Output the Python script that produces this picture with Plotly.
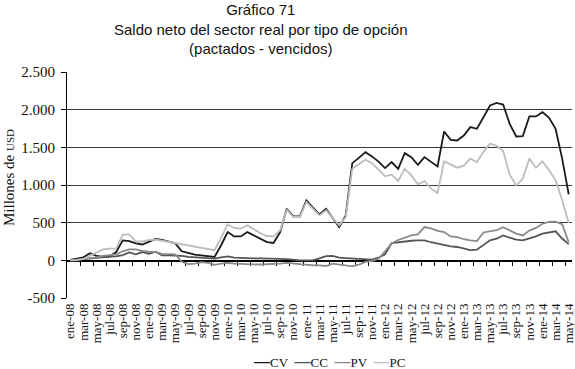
import plotly.graph_objects as go

month_names = ["ene", "feb", "mar", "abr", "may", "jun", "jul", "ago", "sep", "oct", "nov", "dic"]
years = ["08", "09", "10", "11", "12", "13", "14"]
categories = [f"{m}-{y}" for y in years for m in month_names][:77]  # ene-08 .. may-14

CV = [5, 20, 40, 95, 60, 45, 50, 110, 265, 255, 225, 210, 250, 285, 270, 250, 225, 120, 95, 75,
      66, 55, 45, 200, 375, 318, 318, 375, 330, 290, 243, 230, 375, 685, 584, 584, 795, 700, 610, 685,
      560, 442, 597, 1290, 1360, 1436, 1380, 1310, 1224, 1304, 1215, 1423, 1370, 1268, 1370, 1310, 1246, 1710, 1600, 1591,
      1657, 1768, 1746, 1900, 2055, 2090, 2068, 1812, 1644, 1650, 1910, 1910, 1967, 1892, 1746, 1350, 875]
CC = [0, 10, 20, 30, 35, 44, 50, 53, 70, 105, 80, 110, 88, 115, 66, 66, 66, 60, 45, 40,
      30, 25, 22, 40, 53, 35, 30, 26, 26, 26, 26, 26, 20, 15, 5, 0, 0, 0, 25, 55,
      60, 35, 30, 26, 20, 13, 10, 35, 80, 230, 243, 256, 260, 265, 265, 240, 221, 208, 186, 177,
      155, 135, 141, 199, 265, 287, 331, 300, 274, 265, 290, 318, 354, 370, 385, 290, 215]
PV = [0, 10, 20, 30, 40, 60, 70, 80, 120, 146, 146, 124, 115, 110, 85, 80, 80, -20, -50, -45,
      -25, -35, -60, -45, -35, -45, -50, -55, -53, -55, -53, -50, -45, -35, -45, -53, -60, -66, -66, -75,
      -44, -55, -70, -80, -57, -20, -9, 20, 120, 225, 270, 300, 331, 345, 442, 425, 390, 376, 318, 309,
      280, 265, 255, 370, 385, 400, 440, 400, 354, 331, 395, 430, 486, 510, 515, 480, 240]
PC = [0, 0, 20, 60, 110, 145, 155, 155, 340, 345, 250, 250, 270, 275, 260, 245, 230, 215, 200, 175,
      160, 150, 135, 300, 477, 430, 420, 464, 410, 360, 323, 318, 400, 672, 575, 575, 774, 680, 597, 664,
      560, 465, 575, 1217, 1280, 1336, 1290, 1200, 1115, 1137, 1053, 1217, 1128, 1009, 1053, 951, 894, 1314, 1274, 1230,
      1257, 1350, 1305, 1440, 1549, 1520, 1450, 1137, 996, 1084, 1350, 1230, 1314, 1200, 1062, 800, 496]

series_names = ["CV", "CC", "PV", "PC"]
series_values = [CV, CC, PV, PC]
series_colors = ["#1a1a1a", "#555555", "#8a8a8a", "#bdbdbd"]

y_tickvals = [-500, 0, 500, 1000, 1500, 2000, 2500]
y_ticktext = ["-500", "0", "500", "1.000", "1.500", "2.000", "2.500"]

SERIF = "Liberation Serif, Times New Roman, DejaVu Serif, serif"
SANS = "Liberation Sans, Arial, sans-serif"

# pixel geometry of the plot area
L, R, T, B = 67, 572, 72, 298
W, H = 575, 369
PW, PH = R - L, B - T

def px_x(p):
    return (p - L) / PW

def px_y(p):
    return (B - p) / PH

n = len(categories)
xs = list(range(n))

fig = go.Figure()
for name, vals, col in zip(series_names, series_values, series_colors):
    fig.add_trace(go.Scatter(x=xs, y=vals, name=name, mode="lines",
                             line=dict(color=col, width=1.8), showlegend=False))

# invisible trace to carry the zero-crossing category axis
fig.add_trace(go.Scatter(x=[xs[0]], y=[None], xaxis="x2", mode="lines",
                         showlegend=False, hoverinfo="skip"))

ymin, ymax = y_tickvals[0], y_tickvals[-1]

fig.update_layout(
    template="none",
    width=W, height=H,
    margin=dict(l=L, r=W - R, t=T, b=H - B, autoexpand=False),
    paper_bgcolor="white", plot_bgcolor="white",
    showlegend=False,
    xaxis=dict(range=[-0.5, n - 0.5], tickvals=xs[::2], ticktext=categories[::2],
               tickangle=-90, showgrid=False, zeroline=False, showline=False,
               ticks="", ticklabelstandoff=2, automargin=False,
               ticklabeloverflow="allow",
               tickfont=dict(family=SERIF, size=13, color="#111")),
    xaxis2=dict(range=[-0.5, n - 0.5], overlaying="x", anchor="free",
                position=(0 - ymin) / (ymax - ymin), side="bottom",
                tickvals=[i + 0.5 for i in xs[1:-1:2]], ticks="outside", ticklen=4,
                tickcolor="black", tickwidth=1, showticklabels=False,
                showline=True, linecolor="black", linewidth=1.5, showgrid=False,
                zeroline=False, layer="below traces", automargin=False),
    yaxis=dict(range=[ymin, ymax], tickvals=y_tickvals, ticktext=y_ticktext,
               showgrid=True, gridcolor="#3a3a3a", gridwidth=1,
               showline=True, linecolor="black", linewidth=1,
               ticks="outside", ticklen=5, tickcolor="black",
               zeroline=False, ticklabelstandoff=3, automargin=False,
               tickfont=dict(family=SERIF, size=15, color="#111")),
)

# title
fig.add_annotation(text="Gráfico 71<br>Saldo neto del sector real por tipo de opción<br>(pactados - vencidos)",
                   xref="paper", yref="paper", x=px_x(261), y=px_y(-1),
                   xanchor="center", yanchor="top", showarrow=False,
                   font=dict(family=SANS, size=15, color="#111"))

# y-axis title
fig.add_annotation(text="Millones de <span style='font-size:11px'>USD</span>",
                   textangle=-90, xref="paper", yref="paper",
                   x=px_x(9), y=px_y(178),
                   xanchor="center", yanchor="middle", showarrow=False,
                   font=dict(family=SERIF, size=15, color="#111"))

# legend as text built from the series
legend_text = "&nbsp;&nbsp;".join(
    f"<span style='color:{c};font-size:16px'><b>—</b></span>{nm}"
    for nm, c in zip(series_names, series_colors))
fig.add_annotation(text=legend_text, xref="paper", yref="paper",
                   x=px_x(329), y=px_y(361),
                   xanchor="center", yanchor="middle", showarrow=False,
                   font=dict(family=SERIF, size=13, color="#111"))

fig.write_html("out.html", config={"displayModeBar": False, "staticPlot": True},
               post_script="document.body.style.margin='0';document.body.style.overflow='hidden';")
